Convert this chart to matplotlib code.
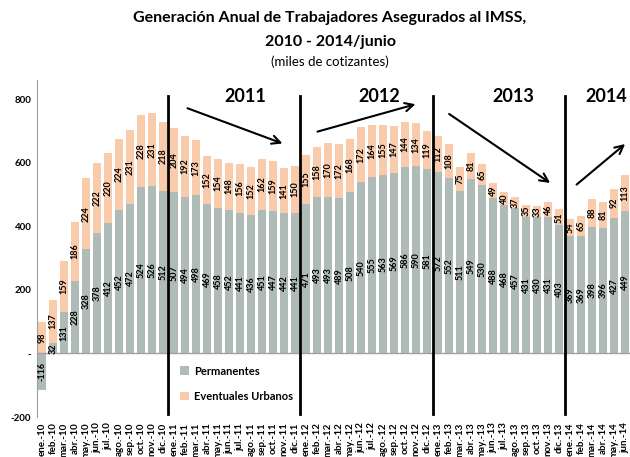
import matplotlib.pyplot as plt
import numpy as np

plt.rcParams['font.family'] = ['Lato', 'DejaVu Sans']

meses = ['ene.', 'feb.', 'mar.', 'abr.', 'may.', 'jun.',
         'jul.', 'ago.', 'sep.', 'oct.', 'nov.', 'dic.']
etiquetas = [m + '-' + a for a in ['10', '11', '12', '13'] for m in meses]
etiquetas += [m + '-14' for m in meses[:6]]

permanentes = [-116, 32, 131, 228, 328, 378, 412, 452, 472, 524, 526, 512,
               507, 494, 498, 469, 458, 452, 441, 436, 451, 447, 442, 441,
               471, 493, 493, 489, 508, 540, 555, 563, 569, 586, 590, 581,
               572, 552, 511, 549, 530, 488, 468, 457, 431, 430, 431, 403,
               369, 369, 398, 396, 427, 449]
eventuales = [98, 137, 159, 186, 224, 222, 220, 224, 231, 228, 231, 218,
              204, 192, 173, 152, 154, 148, 156, 152, 162, 159, 141, 150,
              155, 158, 170, 172, 168, 172, 164, 155, 147, 144, 134, 119,
              112, 108, 75, 81, 65, 49, 40, 37, 35, 33, 46, 51,
              54, 65, 88, 81, 92, 113]

anios = ['2011', '2012', '2013', '2014']
anio_x = [18.5, 30.7, 42.8, 51.3]
cortes = [11.5, 23.5, 35.5, 47.5]
flechas = [((13.0, 775), (22.1, 658)), ((24.8, 696), (34.2, 787)),
           ((36.8, 759), (46.4, 532)), ((48.4, 526), (53.2, 665))]

c_perm = '#aebbb7'
c_even = '#f9cbaa'

fig = plt.figure(figsize=(6.3, 4.57), dpi=100)
ax = fig.add_axes([0.0587, 0.0875, 0.9413, 0.7375])

x = np.arange(len(etiquetas))
perm = np.array(permanentes)
even = np.array(eventuales)
base = np.where(perm > 0, perm, 0)

ax.bar(x, perm, width=0.68, color=c_perm, label='Permanentes')
ax.bar(x, even, width=0.68, bottom=base, color=c_even, label='Eventuales Urbanos')

# etiquetas de valor al centro de cada segmento
for i in range(len(x)):
    ax.text(x[i], perm[i] / 2, str(perm[i]), rotation=90, ha='center', va='center',
            fontsize=6.5, fontweight='bold')
    ax.text(x[i], base[i] + even[i] / 2, str(even[i]), rotation=90, ha='center',
            va='center', fontsize=6.5, fontweight='bold')

ax.axhline(0, color='#a0a0a0', lw=1)
for c in cortes:
    ax.plot([c, c], [-190, 812], color='black', lw=2)
for t, xx in zip(anios, anio_x):
    ax.text(xx, 810, t, ha='center', va='center', fontsize=13, fontweight='bold')
for (a, b) in flechas:
    ax.annotate('', xy=b, xytext=a,
                arrowprops=dict(arrowstyle='->', color='black', lw=1.5,
                                mutation_scale=15))

ax.set_xlim(-0.45, 53.45)
ax.set_ylim(-200, 861)
ax.set_yticks([-200, 0, 200, 400, 600, 800])
ax.set_yticklabels(['-200', '-', '200', '400', '600', '800'], fontsize=7,
                   fontweight='bold')
ax.set_xticks(x)
ax.set_xticklabels(etiquetas, rotation=90, fontsize=7, fontweight='bold')
ax.tick_params(length=0, pad=4)
for s in ['top', 'right', 'bottom']:
    ax.spines[s].set_visible(False)
ax.spines['left'].set_color('#a0a0a0')

ax.legend(loc='lower left', bbox_to_anchor=(0.225, 0.015), frameon=False,
          prop={'size': 8, 'weight': 'bold'}, handlelength=0.8, handleheight=0.8,
          labelspacing=1.3, handletextpad=0.4)

fig.text(0.524, 0.96, 'Generación Anual de Trabajadores Asegurados al IMSS,',
         ha='center', va='center', fontsize=11.5, fontweight='bold')
fig.text(0.524, 0.908, '2010 - 2014/junio', ha='center', va='center',
         fontsize=11.5, fontweight='bold')
fig.text(0.524, 0.864, '(miles de cotizantes)', ha='center', va='center',
         fontsize=9.5)

fig.savefig('out.png', dpi=100)
